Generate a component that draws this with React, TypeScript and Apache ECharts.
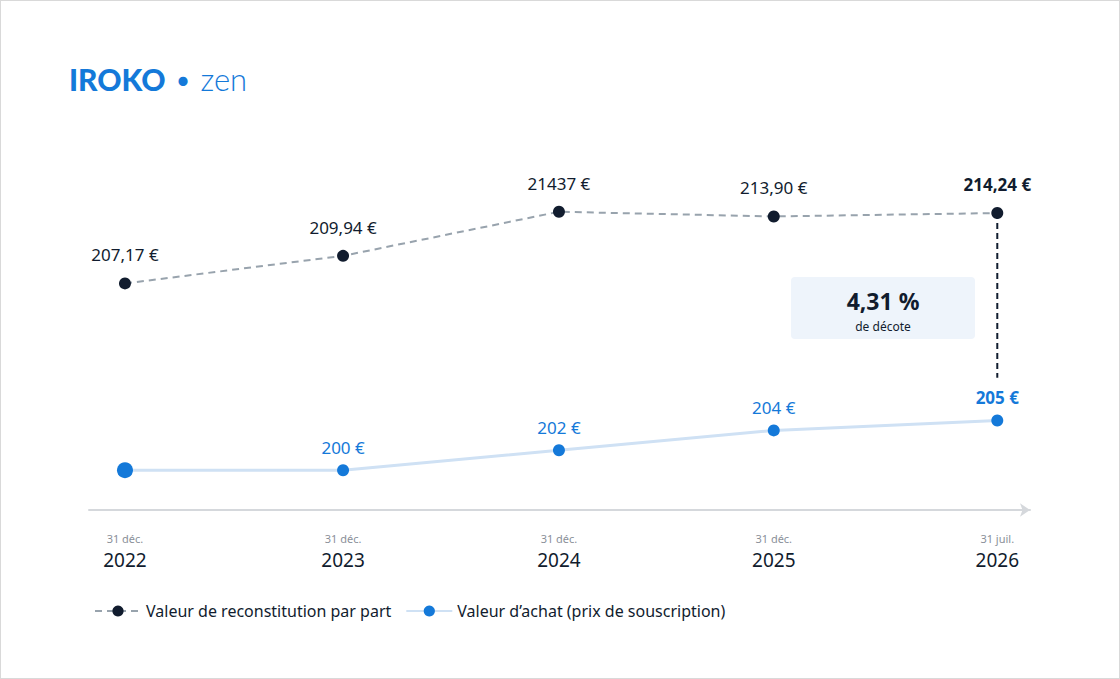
import { useEffect, useRef } from 'react'
import * as echarts from 'echarts'

const xLabels = [
  ['31 déc.', '2022'],
  ['31 déc.', '2023'],
  ['31 déc.', '2024'],
  ['31 déc.', '2025'],
  ['31 juil.', '2026'],
]
const xPositions = [0, 1, 1.99, 2.975, 4]
const reconstitution = [207.17, 209.94, 214.37, 213.9, 214.24]
const reconstitutionLabels = ['207,17 €', '209,94 €', '21437 €', '213,90 €', '214,24 €']
const achat = [200, 200, 202, 204, 205]
const achatLabels = ['', '200 €', '202 €', '204 €', '205 €']
const decote = '4,31 %'

const FONT = 'Noto Sans'
const DARK = '#111c2e'
const BLUE = '#1479d9'

const App: React.FC = () => {
  const chartRef = useRef<HTMLDivElement>(null)

  useEffect(() => {
    document.body.style.margin = '0'
    if (!chartRef.current) return
    const chart = echarts.init(chartRef.current, undefined, { renderer: 'svg' })
    const last = reconstitution.length - 1

    const option = {
      animation: false,
      textStyle: { fontFamily: FONT },
      grid: { left: 88, right: 89, top: 100, bottom: 168 },
      xAxis: {
        type: 'value',
        min: -0.165,
        max: 4.15,
        splitLine: { show: false },
        axisTick: { show: false },
        axisLine: {
          lineStyle: { color: '#d5d8dc', width: 2 },
          symbol: ['none', 'arrow'],
          symbolSize: [10, 10],
        },
        axisLabel: {
          customValues: xPositions,
          margin: 18,
          formatter: (v: number) => {
            const i = xPositions.findIndex((p) => Math.abs(p - v) < 1e-6)
            const l = xLabels[i]
            return l ? `{a|${l[0]}}\n{b|${l[1]}}` : ''
          },
          rich: {
            a: { fontSize: 11, color: '#8a9099', fontFamily: FONT, lineHeight: 20 },
            b: { fontSize: 19, color: DARK, fontFamily: FONT, lineHeight: 24 },
          },
        },
      },
      yAxis: [
        { type: 'value', min: 184.4, max: 225.5, show: false },
        { type: 'value', min: 196, max: 237.1, show: false },
      ],
      legend: {
        left: 88,
        top: 597,
        itemWidth: 46,
        itemHeight: 14,
        itemGap: 14,
        textStyle: { fontSize: 16, color: DARK, fontFamily: FONT },
        data: ['Valeur de reconstitution par part', 'Valeur d’achat (prix de souscription)'],
      },
      series: [
        {
          name: 'Valeur de reconstitution par part',
          type: 'line',
          yAxisIndex: 0,
          data: reconstitution.map((v, i) =>
            i === last
              ? { value: [xPositions[i], v], label: { fontWeight: 'bold' } }
              : [xPositions[i], v]
          ),
          symbol: 'circle',
          symbolSize: 12,
          itemStyle: { color: DARK },
          lineStyle: { color: '#98a3ad', width: 2, type: [7, 5] },
          label: {
            show: true,
            position: 'top',
            distance: 14,
            fontSize: 17,
            color: DARK,
            fontFamily: FONT,
            formatter: (p: any) => reconstitutionLabels[p.dataIndex],
          },
          emphasis: { disabled: true },
          z: 3,
        },
        {
          name: 'Valeur d’achat (prix de souscription)',
          type: 'line',
          yAxisIndex: 1,
          data: achat.map((v, i) => ({
            value: [xPositions[i], v],
            symbolSize: i === 0 ? 16 : 12,
            label: i === last ? { fontWeight: 'bold' } : undefined,
          })),
          symbol: 'circle',
          symbolSize: 12,
          itemStyle: { color: BLUE },
          lineStyle: { color: '#cfe1f4', width: 3 },
          label: {
            show: true,
            position: 'top',
            distance: 8,
            fontSize: 17,
            color: BLUE,
            fontFamily: FONT,
            formatter: (p: any) => achatLabels[p.dataIndex],
          },
          emphasis: { disabled: true },
          z: 3,
        },
        {
          name: 'decote',
          type: 'line',
          yAxisIndex: 0,
          data: [[xPositions[last], reconstitution[last]], [xPositions[last], 197.7]],
          symbol: 'none',
          lineStyle: { color: DARK, width: 2, type: [6, 4] },
          silent: true,
          z: 2,
        },
      ],
      graphic: [
        {
          type: 'text',
          left: 68,
          top: 62,
          style: {
            text: '{a|IROKO}{b| • zen}',
            rich: {
              a: { fontSize: 30, fontWeight: 900, fill: BLUE, fontFamily: 'Lato' },
              b: { fontSize: 31, fontWeight: 300, fill: BLUE, fontFamily: 'Lato' },
            },
          },
        },
        {
          type: 'rect',
          shape: { x: 790, y: 276, width: 184, height: 62, r: 4 },
          style: { fill: '#eef4fb' },
          z: 1,
        },
        {
          type: 'text',
          x: 882,
          y: 300,
          style: { text: decote, fontSize: 23, fontWeight: 'bold', fill: DARK, align: 'center', verticalAlign: 'middle', fontFamily: FONT },
          z: 2,
        },
        {
          type: 'text',
          x: 882,
          y: 325,
          style: { text: 'de décote', fontSize: 12, fill: DARK, align: 'center', verticalAlign: 'middle', fontFamily: FONT },
          z: 2,
        },
      ],
    }

    chart.setOption(option)
    return () => chart.dispose()
  }, [])

  return (
    <div
      ref={chartRef}
      style={{ width: 1120, height: 679, border: '1px solid #d9d9d9', boxSizing: 'border-box', background: '#fff' }}
    />
  )
}

export default App
